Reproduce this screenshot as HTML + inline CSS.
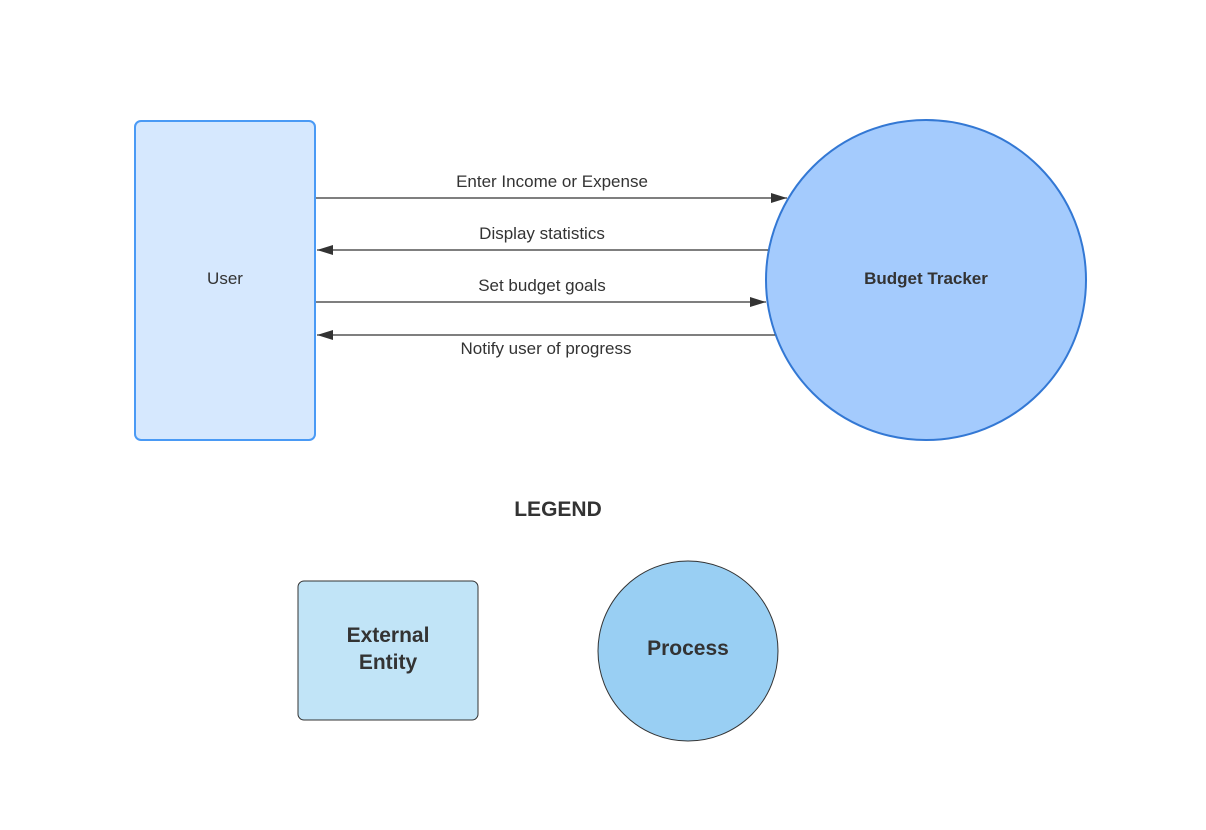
<!DOCTYPE html>
<html><head><style>body{margin:0;background:#fff}</style></head><body>
<svg width="1206" height="825" viewBox="0 0 1206 825" xmlns="http://www.w3.org/2000/svg" font-family="Liberation Sans, sans-serif">
<defs>
<marker id="a" markerWidth="16" markerHeight="10" refX="16" refY="5" orient="auto" markerUnits="userSpaceOnUse"><path d="M0,0 L16,5 L0,10 z" fill="#333"/></marker>
</defs>
<rect x="135" y="121" width="180" height="319" rx="6" fill="#d6e8fe" stroke="#4a9af5" stroke-width="2"/>
<text x="225" y="284" text-anchor="middle" font-size="17" fill="#333">User</text>
<circle cx="926" cy="280" r="160" fill="#a4cbfd" stroke="#3378d4" stroke-width="2"/>
<text x="926" y="284" text-anchor="middle" font-size="17" font-weight="bold" fill="#333">Budget Tracker</text>
<g stroke="#333" stroke-width="1.2" fill="none">
<line x1="316" y1="198" x2="787" y2="198" marker-end="url(#a)"/>
<line x1="768" y1="250" x2="317" y2="250" marker-end="url(#a)"/>
<line x1="316" y1="302" x2="766" y2="302" marker-end="url(#a)"/>
<line x1="775" y1="335" x2="317" y2="335" marker-end="url(#a)"/>
</g>
<g font-size="17" fill="#333" text-anchor="middle">
<text x="552" y="187">Enter Income or Expense</text>
<text x="542" y="239">Display statistics</text>
<text x="542" y="291">Set budget goals</text>
<text x="546" y="354">Notify user of progress</text>
</g>
<text x="558" y="516" text-anchor="middle" font-size="21" font-weight="bold" fill="#333">LEGEND</text>
<rect x="298" y="581" width="180" height="139" rx="6" fill="#c1e4f7" stroke="#333" stroke-width="1"/>
<text x="388" y="642" text-anchor="middle" font-size="21" font-weight="bold" fill="#333">External</text>
<text x="388" y="669" text-anchor="middle" font-size="21" font-weight="bold" fill="#333">Entity</text>
<circle cx="688" cy="651" r="90" fill="#99cff3" stroke="#333" stroke-width="1"/>
<text x="688" y="655" text-anchor="middle" font-size="21" font-weight="bold" fill="#333">Process</text>
</svg>
</body></html>
